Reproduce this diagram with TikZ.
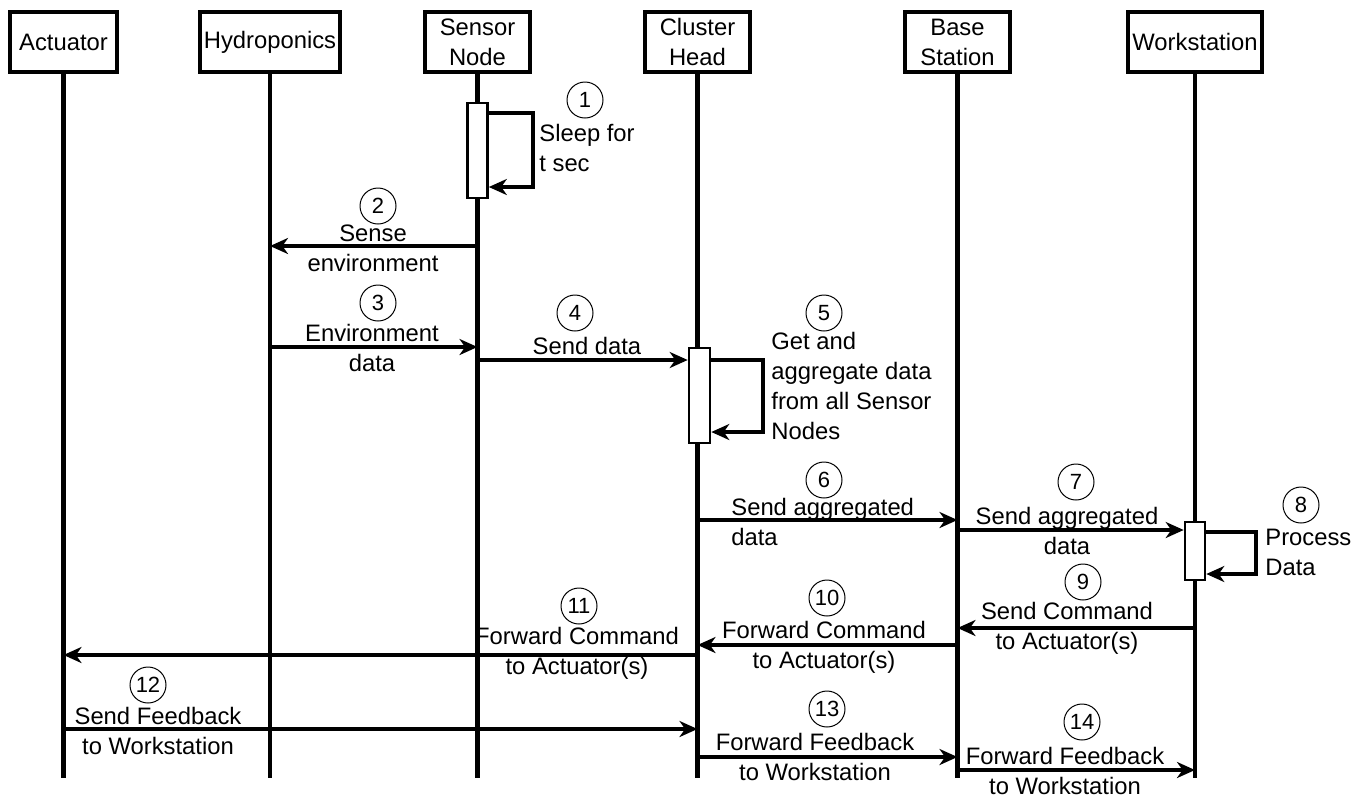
\documentclass[tikz,border=0pt]{standalone}
\usepackage{fontspec}
\setmainfont{Liberation Sans}
\usetikzlibrary{arrows.meta}
\begin{document}
\begin{tikzpicture}[x=0.5pt,y=-0.5pt,
  every node/.style={font=\fontsize{11.9}{15}\selectfont},
  head/.style={draw,line width=1.7pt,minimum height=30pt,inner sep=0pt,align=center,fill=white},
  life/.style={line width=2.3pt},
  actbox/.style={draw,line width=1.3pt,fill=white,minimum width=10pt,inner sep=0pt},
  msg/.style={line width=1.6pt,-{Stealth[length=9pt,width=8pt,inset=2.8pt]}},
  num/.style={draw,circle,line width=0.5pt,minimum size=18pt,inner sep=0pt,font=\fontsize{11}{12}\selectfont},
  lbl/.style={inner sep=0pt,align=center}
]
\useasboundingbox (0,0) rectangle (1366,800);
% heads
\node[head,minimum width=53.5pt] (act) at (63.5,42) {Actuator};
\node[head,minimum width=70pt] (hyd) at (270,42) {Hydroponics};
\node[head,minimum width=52.5pt] (sen) at (477.5,42) {Sensor\\Node};
\node[head,minimum width=52.5pt] (clu) at (697.5,42) {Cluster\\Head};
\node[head,minimum width=52.5pt] (bas) at (957.5,42) {Base\\Station};
\node[head,minimum width=67pt] (wor) at (1195,42) {Workstation};
% lifeline ends
\coordinate (actE) at (63.5,778);
\coordinate (hydE) at (270,778);
\coordinate (senE) at (477.5,778);
\coordinate (cluE) at (697.5,778);
\coordinate (basE) at (957.5,778);
\coordinate (worE) at (1195,778);
\draw[life] (act.south) -- (actE);
\draw[life] (hyd.south) -- (hydE);
\draw[life] (sen.south) -- (senE);
\draw[life] (clu.south) -- (cluE);
\draw[life] (bas.south) -- (basE);
\draw[life] (wor.south) -- (worE);
% activation boxes
\node[actbox,minimum height=47.5pt] (sa) at (477.5,150.5) {};
\node[actbox,minimum height=47.5pt,minimum width=10.5pt] (ca) at (699.5,395.5) {};
\node[actbox,minimum height=29pt] (wa) at (1195,551) {};
% 1
\draw[msg] (sa.east |- 0,113) -- (533,113) -- (533,187) -- (sa.east |- 0,187);
\node[num] (n1) at (585,100) {1};
\node[lbl,align=left,anchor=west] (t1) at (539,148) {Sleep for\\t sec};
% 2
\draw[msg] (sen |- 0,246) -- (hyd |- 0,246);
\node[num] (n2) at (378,206) {2};
\node[lbl] (t2) at (373,248) {Sense\\environment};
% 3
\draw[msg] (hyd |- 0,347) -- (sen |- 0,347);
\node[num] (n3) at (378,303) {3};
\node[lbl] (t3) at (372,348) {Environment\\data};
% 4
\draw[msg] (sen |- 0,360) -- (ca.west |- 0,360);
\node[num] (n4) at (575,313) {4};
\node[lbl] (t4) at (587,346) {Send data};
% 5
\draw[msg] (ca.east |- 0,360) -- (763,360) -- (763,432) -- (ca.east |- 0,432);
\node[num] (n5) at (824,313) {5};
\node[lbl,align=left,anchor=west] (t5) at (771,386) {Get and\\aggregate data\\from all Sensor\\Nodes};
% 6
\draw[msg] (clu |- 0,520) -- (bas |- 0,520);
\node[num] (n6) at (824,480) {6};
\node[lbl,align=left,anchor=west] (t6) at (731,522) {Send aggregated\\data};
% 7
\draw[msg] (bas |- 0,530) -- (wa.west |- 0,530);
\node[num] (n7) at (1076,482) {7};
\node[lbl] (t7) at (1067,531) {Send aggregated\\data};
% 8
\draw[msg] (wa.east |- 0,532) -- (1256,532) -- (1256,574) -- (wa.east |- 0,574);
\node[num] (n8) at (1301,505) {8};
\node[lbl,align=left,anchor=west] (t8) at (1265,552) {Process\\Data};
% 9
\draw[msg] (wor |- 0,628) -- (bas |- 0,628);
\node[num] (n9) at (1083,582) {9};
\node[lbl] (t9) at (1067,628) {Send Command\\to Actuator(s)};
% 10
\draw[msg] (bas |- 0,645) -- (clu |- 0,645);
\node[num] (n10) at (827,598) {10};
\node[lbl] (t10) at (824,647) {Forward Command\\to Actuator(s)};
% 11
\draw[msg] (clu |- 0,655) -- (act |- 0,655);
\node[num] (n11) at (579,606) {11};
\node[lbl] (t11) at (577,653) {Forward Command\\to Actuator(s)};
% 12
\draw[msg] (act |- 0,729) -- (clu |- 0,729);
\node[num] (n12) at (148,685) {12};
\node[lbl] (t12) at (158,731) {Send Feedback\\to Workstation};
% 13
\draw[msg] (clu |- 0,757) -- (bas |- 0,757);
\node[num] (n13) at (827,709) {13};
\node[lbl] (t13) at (815,757) {Forward Feedback\\to Workstation};
% 14
\draw[msg] (bas |- 0,770) -- (wor |- 0,770);
\node[num] (n14) at (1082,722) {14};
\node[lbl] (t14) at (1065,771) {Forward Feedback\\to Workstation};
\end{tikzpicture}
\end{document}
